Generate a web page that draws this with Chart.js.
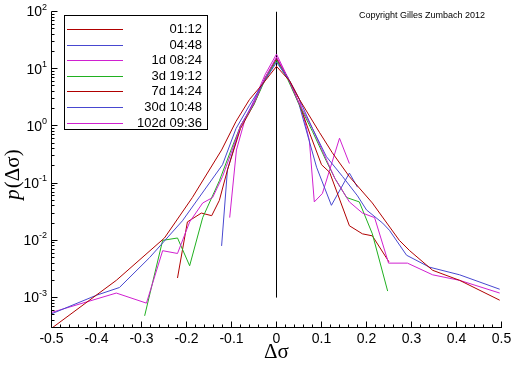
<!DOCTYPE html>
<html><head><meta charset="utf-8">
<script src="https://cdn.jsdelivr.net/npm/chart.js@4.4.1/dist/chart.umd.min.js"></script>
<style>html,body{margin:0;padding:0;background:#fff;}</style>
</head><body>
<canvas id="c" width="512" height="366" style="width:512px;height:366px;display:block"></canvas>
<script>
const seriesLabels = ['01:12','04:48','1d 08:24','3d 19:12','7d 14:24','30d 10:48','102d 09:36'];
const seriesColors = ['#b00000','#4848d0','#d020d0','#20b020','#b00000','#4848d0','#d020d0'];

const xA = [-0.5,-0.356,-0.249,-0.187,-0.122,-0.09,-0.06,-0.03,0,0.03,0.051,0.096,0.124,0.162,0.213,0.273,0.296,0.347,0.407,0.496];
const yA = [2.9e-4,2.0e-3,0.011,0.056,0.38,1.2,2.9,5.5,11,6,2.9,0.76,0.34,0.13,0.045,0.01,0.0066,0.003,0.002,9e-4];

const xB = [-0.5,-0.4,-0.349,-0.282,-0.209,-0.12,-0.09,-0.06,-0.03,0,0.03,0.05,0.08,0.111,0.147,0.18,0.2,0.236,0.251,0.289,0.34,0.407,0.496];
const yB = [5.2e-4,1.1e-3,1.5e-3,0.005,0.022,0.21,0.9,2.3,5.5,13,6,3,0.9,0.29,0.13,0.06,0.034,0.02,0.015,0.0055,0.0034,0.0025,0.0014];

const xC = [-0.5,-0.356,-0.289,-0.253,-0.22,-0.193,-0.164,-0.142,-0.12,-0.1,-0.08,-0.05,-0.025,0,0.025,0.05,0.08,0.1,0.13,0.162,0.191,0.218,0.249,0.291,0.347,0.407,0.496];
const yC = [5.5e-4,1.2e-3,8e-4,0.0066,0.0059,0.021,0.045,0.056,0.13,0.35,1.0,2.5,7,16,7,2.5,0.9,0.4,0.12,0.047,0.03,0.025,0.004,0.004,0.0025,0.002,0.0012];

const xD = [-0.293,-0.253,-0.22,-0.193,-0.164,-0.127,-0.1,-0.08,-0.05,-0.025,0,0.025,0.05,0.08,0.11,0.13,0.156,0.184,0.213,0.247];
const yD = [4.8e-4,0.01,0.011,0.0036,0.025,0.11,0.4,1.0,2.4,6.5,14,6.5,2.4,0.8,0.25,0.12,0.056,0.047,0.013,0.0013];

const xE = [-0.22,-0.198,-0.167,-0.144,-0.127,-0.109,-0.08,-0.05,-0.025,0,0.025,0.05,0.075,0.1,0.118,0.162,0.191,0.213,0.25];
const yE = [0.0022,0.021,0.03,0.027,0.05,0.17,0.9,2.4,7,15,7,2.5,0.7,0.21,0.155,0.018,0.013,0.012,0.0042];

const xF = [-0.122,-0.109,-0.08,-0.05,-0.025,0,0.025,0.05,0.089,0.122,0.162,0.18];
const yF = [0.008,0.17,1.0,2.6,7,15,7,2.4,0.19,0.041,0.15,0.085];

const xG = [-0.104,-0.089,-0.07,-0.05,-0.025,0,0.025,0.051,0.073,0.084,0.102,0.14,0.162];
const yG = [0.025,0.38,1.3,2.8,8,18,7,2.9,0.56,0.047,0.066,0.61,0.22];

const zeroLineX = [0,0];
const zeroLineY = [1e-3,100];

const xTickLabels = ['-0.5','-0.4','-0.3','-0.2','-0.1','0','0.1','0.2','0.3','0.4','0.5'];
const yTickExps = ['2','1','0','-1','-2','-3'];

const seriesX = [xA,xB,xC,xD,xE,xF,xG];
const seriesY = [yA,yB,yC,yD,yE,yF,yG];

const pts = (xs, ys) => xs.map((x,i)=>({x:x,y:ys[i]}));
const datasets = seriesLabels.map((lab,i)=>({
  label: lab, data: pts(seriesX[i], seriesY[i]),
  borderColor: seriesColors[i], backgroundColor: seriesColors[i],
  borderWidth: 1, pointRadius: 0, fill: false, tension: 0
}));
datasets.push({label:'zero', data: pts(zeroLineX, zeroLineY), borderColor:'#000', borderWidth:1, pointRadius:0, fill:false});

const px5 = v => Math.floor(v)+0.5;

const decor = {
  id: 'decor',
  afterDraw(chart) {
    const ctx = chart.ctx, xs = chart.scales.x, ys = chart.scales.y;
    const L = px5(xs.getPixelForValue(-0.5)), R = px5(xs.getPixelForValue(0.5));
    const B = px5(ys.getPixelForValue(ys.min)), T = px5(ys.getPixelForValue(100));
    ctx.save();
    ctx.strokeStyle = '#000'; ctx.lineWidth = 1;
    ctx.beginPath();
    ctx.moveTo(L, T); ctx.lineTo(L, B); ctx.lineTo(R+0.5, B);
    for (let i=-25;i<=25;i++){
      const v=i/50, p=px5(xs.getPixelForValue(v));
      const len = (i%5===0)?6:3;
      ctx.moveTo(p, B); ctx.lineTo(p, B-len);
    }
    for (let d=-4; d<=2; d++){
      for (let k=1;k<=9;k++){
        const v=k*Math.pow(10,d);
        if (v<ys.min*0.999 || v>100.001) continue;
        const p=px5(ys.getPixelForValue(v));
        const len=(k===1)?6:3;
        ctx.moveTo(L, p); ctx.lineTo(L+len, p);
      }
    }
    ctx.stroke();
    ctx.fillStyle='#000';
    ctx.font='14px "Liberation Sans", Arial, sans-serif';
    ctx.textAlign='center'; ctx.textBaseline='top';
    xTickLabels.forEach(t=>{
      ctx.fillText(t, xs.getPixelForValue(parseFloat(t)), B+5);
    });
    yTickExps.forEach(e=>{
      const py = ys.getPixelForValue(Math.pow(10, parseInt(e)));
      ctx.font='9px "Liberation Sans", Arial, sans-serif';
      const ew = ctx.measureText(e).width;
      ctx.textAlign='left'; ctx.textBaseline='alphabetic';
      ctx.fillText(e, 47-ew, py-2);
      ctx.font='14px "Liberation Sans", Arial, sans-serif';
      ctx.textAlign='right'; ctx.textBaseline='middle';
      ctx.fillText('10', 47-ew, py+1);
    });
    ctx.font='21px "Liberation Serif", serif';
    ctx.textAlign='center'; ctx.textBaseline='middle';
    ctx.fillText('\u0394\u03c3', (L+R)/2, 352);
    ctx.save();
    ctx.translate(13, 175); ctx.rotate(-Math.PI/2);
    ctx.font='italic 21px "Liberation Serif", serif';
    const pw = ctx.measureText('p').width;
    ctx.font='21px "Liberation Serif", serif';
    const rw = ctx.measureText('(\u0394\u03c3)').width;
    const start = -(pw+rw)/2;
    ctx.textAlign='left';
    ctx.font='italic 21px "Liberation Serif", serif';
    ctx.fillText('p', start, 0);
    ctx.font='21px "Liberation Serif", serif';
    ctx.fillText('(\u0394\u03c3)', start+pw+1, 0);
    ctx.restore();
    ctx.fillStyle='#fff';
    ctx.fillRect(64,15,143,114);
    ctx.strokeStyle='#000'; ctx.lineWidth=1;
    ctx.strokeRect(64.5,15.5,143,114);
    ctx.font='13px "Liberation Sans", Arial, sans-serif';
    ctx.textAlign='right'; ctx.textBaseline='middle';
    seriesLabels.forEach((lab,i)=>{
      const yy = Math.round(29 + i*15.6)+0.5;
      ctx.strokeStyle=seriesColors[i];
      ctx.beginPath(); ctx.moveTo(67,yy); ctx.lineTo(123,yy); ctx.stroke();
      ctx.fillStyle='#000';
      ctx.fillText(lab, 202, yy);
    });
    ctx.font='9px "Liberation Sans", Arial, sans-serif';
    ctx.textAlign='left'; ctx.textBaseline='middle';
    ctx.fillText('Copyright Gilles Zumbach 2012', 359, 16);
    ctx.restore();
  }
};

new Chart(document.getElementById('c'), {
  type: 'line',
  data: { datasets: datasets },
  options: {
    responsive: false, animation: false, devicePixelRatio: 1,
    layout: { padding: { left: 0, right: 10.5, top: 11.5, bottom: 0 } },
    plugins: { legend: { display: false }, tooltip: { enabled: false } },
    scales: {
      x: { type: 'linear', min: -0.5, max: 0.5,
           ticks: { display: false }, grid: { display: false, drawTicks:false }, border: { display: false },
           afterFit(s){ s.height = 38.5; } },
      y: { type: 'logarithmic', min: 3e-4, max: 100,
           ticks: { display: false }, grid: { display: false, drawTicks:false }, border: { display: false },
           afterFit(s){ s.width = 51.5; } }
    }
  },
  plugins: [decor]
});
</script>
</body></html>
